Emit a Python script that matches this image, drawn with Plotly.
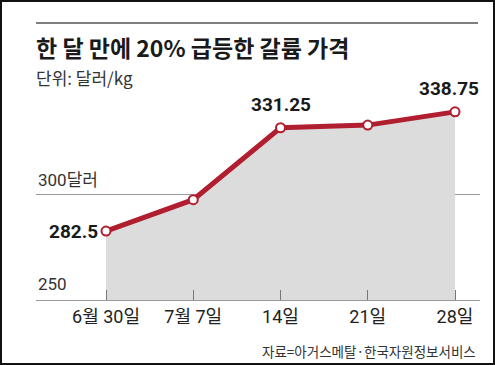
import plotly.graph_objects as go

categories = ["6월 30일", "7월 7일", "14일", "21일", "28일"]
prices = [282.5, 297.3, 331.25, 332.5, 338.75]
label_text = ["282.5", "", "331.25", "", "338.75"]

W, H = 495, 365
L, R, T, B = 36, 15, 100, 65
pw, ph = W - L - R, H - T - B

xs = list(range(len(categories)))

fig = go.Figure()
fig.add_trace(go.Scatter(
    x=xs, y=prices, mode="lines+markers",
    line=dict(color="#B01E2F", width=5),
    marker=dict(size=9, color="white", line=dict(color="#B01E2F", width=2)),
    fill="tozeroy", fillcolor="#DCDCDC",
    hoverinfo="skip", showlegend=False,
))

num_font = dict(family="Liberation Sans Narrow, Roboto, Noto Sans CJK KR", size=19, color="#1a1a1a")

# value labels
fig.add_annotation(x=xs[0], y=prices[0], text="<b>" + label_text[0] + "</b>", showarrow=False,
                   xanchor="right", yanchor="middle", xshift=-6, font=num_font)
fig.add_annotation(x=xs[2], y=prices[2], text="<b>" + label_text[2] + "</b>", showarrow=False,
                   xanchor="center", yanchor="bottom", yshift=10, font=num_font)
fig.add_annotation(x=xs[4], y=prices[4], text="<b>" + label_text[4] + "</b>", showarrow=False,
                   xanchor="center", yanchor="bottom", xshift=-6, yshift=10, font=num_font)

# y labels
ylab_font = dict(family="Liberation Sans Narrow, Roboto, Noto Sans CJK KR", size=17, color="#333333")
fig.add_annotation(xref="paper", x=0, y=300, text="300달러", showarrow=False,
                   xanchor="left", yanchor="bottom", yshift=2, font=ylab_font)
fig.add_annotation(xref="paper", x=0, y=250, text="250", showarrow=False,
                   xanchor="left", yanchor="bottom", yshift=4, font=ylab_font)

# title, subtitle, source
fig.add_annotation(xref="paper", yref="paper", x=0, y=1 + (T - 47) / ph, text="<b>한 달 만에 20% 급등한 갈륨 가격</b>",
                   showarrow=False, xanchor="left", yanchor="middle", xshift=-2,
                   font=dict(family="Noto Sans CJK KR", size=23, color="#1a1a1a"))
fig.add_annotation(xref="paper", yref="paper", x=0, y=1 + (T - 77) / ph, text="단위: 달러/kg",
                   showarrow=False, xanchor="left", yanchor="middle", xshift=-2,
                   font=dict(family="Noto Sans CJK KR", size=17, color="#333333"))
fig.add_annotation(xref="paper", yref="paper", x=1 - 2 / pw, y=-(351 - (T + ph)) / ph,
                   text="자료=아거스메탈·한국자원정보서비스",
                   showarrow=False, xanchor="right", yanchor="middle",
                   font=dict(family="Noto Sans CJK KR", size=13.5, color="#333333"))

# top rule
fig.add_shape(type="line", xref="paper", yref="paper", x0=0, x1=1 - 2 / pw,
              y0=1 + (T - 23) / ph, y1=1 + (T - 23) / ph, line=dict(color="#555555", width=1.5))
# outer border
fig.add_shape(type="rect", xref="paper", yref="paper",
              x0=-(L - 1) / pw, x1=1 + (R - 1) / pw, y0=-(B - 1) / ph, y1=1 + (T - 1) / ph,
              line=dict(color="#111111", width=2))

spacing = 87.25
fig.update_layout(
    width=W, height=H,
    margin=dict(l=L, r=R, t=T, b=B),
    paper_bgcolor="white", plot_bgcolor="white",
    xaxis=dict(
        range=[-(106 - L) / spacing, 4 + (W - R - 455) / spacing],
        tickvals=xs, ticktext=categories,
        ticks="inside", ticklen=10, tickcolor="#777777", tickwidth=1,
        showline=True, linecolor="#999999", linewidth=1,
        showgrid=False, zeroline=False,
        tickfont=dict(family="Liberation Sans Narrow, Roboto, Noto Sans CJK KR", size=18, color="#222222"),
        fixedrange=True,
    ),
    yaxis=dict(
        range=[250, 250 + ph / 2.12],
        tickvals=[300], showticklabels=False,
        showgrid=True, gridcolor="#999999", gridwidth=1,
        zeroline=False, showline=False, fixedrange=True,
    ),
)

fig.write_html("out.html", config={"displayModeBar": False},
               post_script="document.body.style.margin='0';")
